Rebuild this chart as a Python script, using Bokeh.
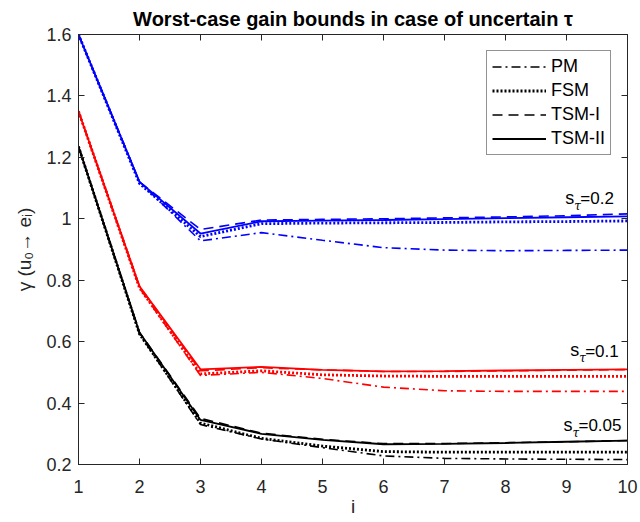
from bokeh.plotting import figure
from bokeh.models import Range1d, LinearAxis, FixedTicker, Label, Legend, LegendItem
from bokeh.embed import file_html
from bokeh.resources import INLINE

# ---- data ----
steps = [1, 2, 3, 4, 5, 6, 7, 8, 9, 10]

# s_tau = 0.2 (blue)
pm_02 = [1.60, 1.12, 0.928, 0.955, 0.930, 0.906, 0.898, 0.896, 0.897, 0.898]
fsm_02 = [1.60, 1.115, 0.942, 0.984, 0.986, 0.987, 0.988, 0.990, 0.991, 0.993]
tsm1_02 = [1.60, 1.12, 0.965, 0.996, 0.998, 1.000, 1.003, 1.006, 1.010, 1.016]
tsm2_02 = [1.60, 1.12, 0.952, 0.992, 0.994, 0.996, 0.999, 1.002, 1.005, 1.008]

# s_tau = 0.1 (red)
pm_01 = [1.35, 0.775, 0.490, 0.500, 0.480, 0.452, 0.440, 0.438, 0.438, 0.438]
fsm_01 = [1.35, 0.775, 0.495, 0.505, 0.492, 0.488, 0.487, 0.487, 0.487, 0.487]
tsm1_01 = [1.35, 0.780, 0.505, 0.515, 0.508, 0.503, 0.503, 0.505, 0.507, 0.509]
tsm2_01 = [1.35, 0.780, 0.510, 0.518, 0.508, 0.503, 0.504, 0.506, 0.508, 0.510]

# s_tau = 0.05 (black)
pm_005 = [1.235, 0.625, 0.330, 0.283, 0.255, 0.228, 0.220, 0.218, 0.217, 0.216]
fsm_005 = [1.235, 0.625, 0.335, 0.285, 0.260, 0.242, 0.240, 0.240, 0.240, 0.240]
tsm1_005 = [1.235, 0.630, 0.350, 0.302, 0.282, 0.268, 0.268, 0.271, 0.274, 0.278]
tsm2_005 = [1.235, 0.630, 0.345, 0.300, 0.280, 0.266, 0.267, 0.270, 0.274, 0.278]

x_ticks = [1, 2, 3, 4, 5, 6, 7, 8, 9, 10]
y_ticks = [0.2, 0.4, 0.6, 0.8, 1.0, 1.2, 1.4, 1.6]
y_tick_labels = ["0.2", "0.4", "0.6", "0.8", "1", "1.2", "1.4", "1.6"]

method_names = ["PM", "FSM", "TSM-I", "TSM-II"]
annot_texts = ["=0.2", "=0.1", "=0.05"]
annot_x = [8.98, 9.06, 8.95]
annot_y = [1.065, 0.569, 0.326]

FONT = "Liberation Sans"
AX = "#262626"

p = figure(width=640, height=522, x_range=Range1d(1, 10), y_range=Range1d(0.2, 1.6),
           output_backend="svg", toolbar_location=None,
           min_border_left=78, min_border_right=13, min_border_top=33, min_border_bottom=58)

p.title.text = "Worst-case gain bounds in case of uncertain \u03c4"
p.title.text_font = FONT
p.title.text_font_size = "20px"
p.title.text_font_style = "bold"
p.title.align = "center"
p.title.text_color = "#000000"

p.xgrid.visible = False
p.ygrid.visible = False
p.outline_line_color = AX
p.outline_line_width = 1

for ax in [p.xaxis[0], p.yaxis[0]]:
    ax.axis_line_color = AX
    ax.major_tick_line_color = AX
    ax.major_tick_in = 6
    ax.major_tick_out = 0
    ax.minor_tick_line_color = None
    ax.major_label_text_font = FONT
    ax.major_label_text_font_size = "18px"
    ax.major_label_text_color = AX
    ax.axis_label_text_font = FONT
    ax.axis_label_text_font_style = "normal"
    ax.axis_label_text_color = AX

p.xaxis.ticker = FixedTicker(ticks=x_ticks)
p.yaxis.ticker = FixedTicker(ticks=y_ticks)
p.yaxis.major_label_overrides = dict(zip(y_ticks, y_tick_labels))
p.xaxis.major_label_standoff = 15
p.yaxis.major_label_standoff = 7
p.xaxis.axis_label = "i"
p.xaxis.axis_label_text_font_size = "19px"
p.xaxis.axis_label_standoff = 0
p.yaxis.axis_label = "\u03b3 (u\u2080\u2192 e\u1d62)"
p.yaxis.axis_label_text_font_size = "19px"
p.yaxis.axis_label_standoff = 8

top = LinearAxis(ticker=FixedTicker(ticks=x_ticks),
                 major_label_overrides={t: "" for t in x_ticks},
                 major_tick_in=6, major_tick_out=0, minor_tick_line_color=None,
                 axis_line_color=AX, major_tick_line_color=AX, major_label_standoff=0)
right = LinearAxis(ticker=FixedTicker(ticks=y_ticks),
                   major_label_overrides={t: "" for t in y_ticks},
                   major_tick_in=6, major_tick_out=0, minor_tick_line_color=None,
                   axis_line_color=AX, major_tick_line_color=AX, major_label_standoff=0)
p.add_layout(top, "above")
p.add_layout(right, "right")

styles = [dict(line_dash="9 4 2 4", line_width=1.6),
          dict(line_dash="2 2", line_width=2.8),
          dict(line_dash="10 6", line_width=1.6),
          dict(line_dash="solid", line_width=1.8)]

groups = [("#0000ff", [pm_02, fsm_02, tsm1_02, tsm2_02]),
          ("#ff0000", [pm_01, fsm_01, tsm1_01, tsm2_01]),
          ("#000000", [pm_005, fsm_005, tsm1_005, tsm2_005])]

legend_renderers = []
for color, series in groups:
    rs = []
    for ys, st in zip(series, styles):
        r = p.line(steps, ys, line_color=color, **st)
        rs.append(r)
    if color == "#000000":
        legend_renderers = rs

legend = Legend(items=[LegendItem(label=n, renderers=[r]) for n, r in zip(method_names, legend_renderers)],
                location="top_right")
legend.margin = 16
legend.padding = 5
legend.spacing = 3
legend.label_height = 19
legend.glyph_height = 19
legend.glyph_width = 54
legend.label_standoff = 5
legend.label_text_font = FONT
legend.label_text_font_size = "18px"
legend.label_text_color = "#000000"
legend.border_line_color = AX
legend.border_line_width = 1
legend.background_fill_alpha = 1
p.add_layout(legend)

for t, xa, ya in zip(annot_texts, annot_x, annot_y):
    p.add_layout(Label(x=xa, y=ya, text="s", text_font=FONT, text_font_size="18px",
                       text_baseline="middle", text_align="left", text_color="#000000", y_offset=1))
    p.add_layout(Label(x=xa, y=ya, x_offset=9, y_offset=-7, text="\u03c4", text_font="DejaVu Serif",
                       text_font_size="12px", text_font_style="italic",
                       text_baseline="middle", text_align="left", text_color="#000000"))
    p.add_layout(Label(x=xa, y=ya, x_offset=15, text=t, text_font=FONT, text_font_size="17px",
                       text_baseline="middle", text_align="left", text_color="#000000"))

open("out.html", "w").write(file_html(p, INLINE))
